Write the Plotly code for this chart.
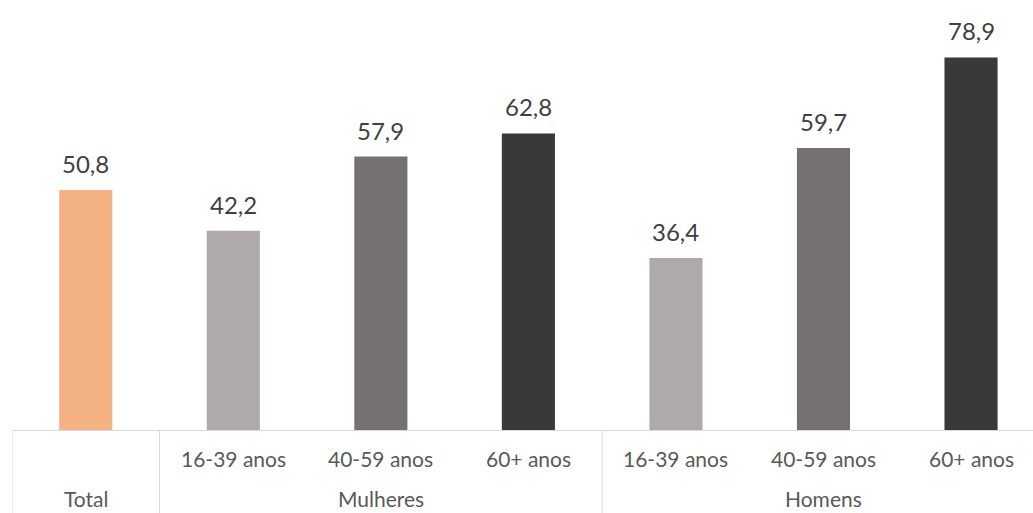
import plotly.graph_objects as go

# Categories: group (sex) and sub-category (age band)
groups = ["Total", "Mulheres", "Homens"]
group_members = [[0], [1, 2, 3], [4, 5, 6]]
ages = ["", "16-39 anos", "40-59 anos", "60+ anos", "16-39 anos", "40-59 anos", "60+ anos"]
values = [50.8, 42.2, 57.9, 62.8, 36.4, 59.7, 78.9]
colors = ["#F4B183", "#AEAAAA", "#767171", "#3B3838", "#AEAAAA", "#767171", "#3B3838"]

FONT = "'Gill Sans', 'Gill Sans MT', Lato, 'Open Sans', sans-serif"
TICK_COLOR = "#595959"
LINE_COLOR = "#D9D9D9"

# Plot area geometry (pixels), used to place the two label rows below the axis
H, M_T, M_B = 513, 5, 83
PLOT_H = H - M_T - M_B


def px_below(p):
    """Paper y coordinate for a point p pixels below the x axis."""
    return -p / PLOT_H


idx = list(range(len(values)))

fig = go.Figure(
    go.Bar(
        x=idx,
        y=values,
        marker=dict(color=colors, line=dict(width=0)),
        width=0.36,
        hoverinfo="skip",
    )
)

# Value labels above each bar
for i, v in zip(idx, values):
    fig.add_annotation(
        x=i, y=v, text=f"{v:.1f}".replace(".", ","),
        showarrow=False, yanchor="bottom", yshift=10,
        font=dict(family=FONT, size=24, color="#404040"),
    )

# First label row: age bands
for i, a in zip(idx, ages):
    if a:
        fig.add_annotation(
            x=i, y=px_below(28), xref="x", yref="paper", text=a,
            showarrow=False, yanchor="middle",
            font=dict(family=FONT, size=21, color=TICK_COLOR),
        )

# Second label row: groups, centred on their members, resting on the bottom edge
for g, members in zip(groups, group_members):
    fig.add_annotation(
        x=sum(members) / len(members), y=px_below(M_B - 1), xref="x", yref="paper",
        text=g, showarrow=False, yanchor="bottom", borderpad=0,
        font=dict(family=FONT, size=21, color=TICK_COLOR),
    )

# Group dividers running from the axis down to the bottom edge
for members in group_members:
    fig.add_shape(
        type="line", xref="x", yref="paper",
        x0=members[0] - 0.5, x1=members[0] - 0.5,
        y0=0, y1=px_below(M_B + 2),
        line=dict(color=LINE_COLOR, width=1),
    )

fig.update_layout(
    width=1033,
    height=H,
    margin=dict(l=12, r=0, t=M_T, b=M_B),
    paper_bgcolor="white",
    plot_bgcolor="white",
    showlegend=False,
    font=dict(family=FONT, color=TICK_COLOR),
    xaxis=dict(
        range=[-0.5, 6.42],
        showline=True,
        linecolor=LINE_COLOR,
        linewidth=1,
        showticklabels=False,
        ticks="",
        showgrid=False,
        zeroline=False,
    ),
    yaxis=dict(
        range=[0, 90],
        visible=False,
        showgrid=False,
        zeroline=False,
    ),
)

fig.write_html("out.html")
